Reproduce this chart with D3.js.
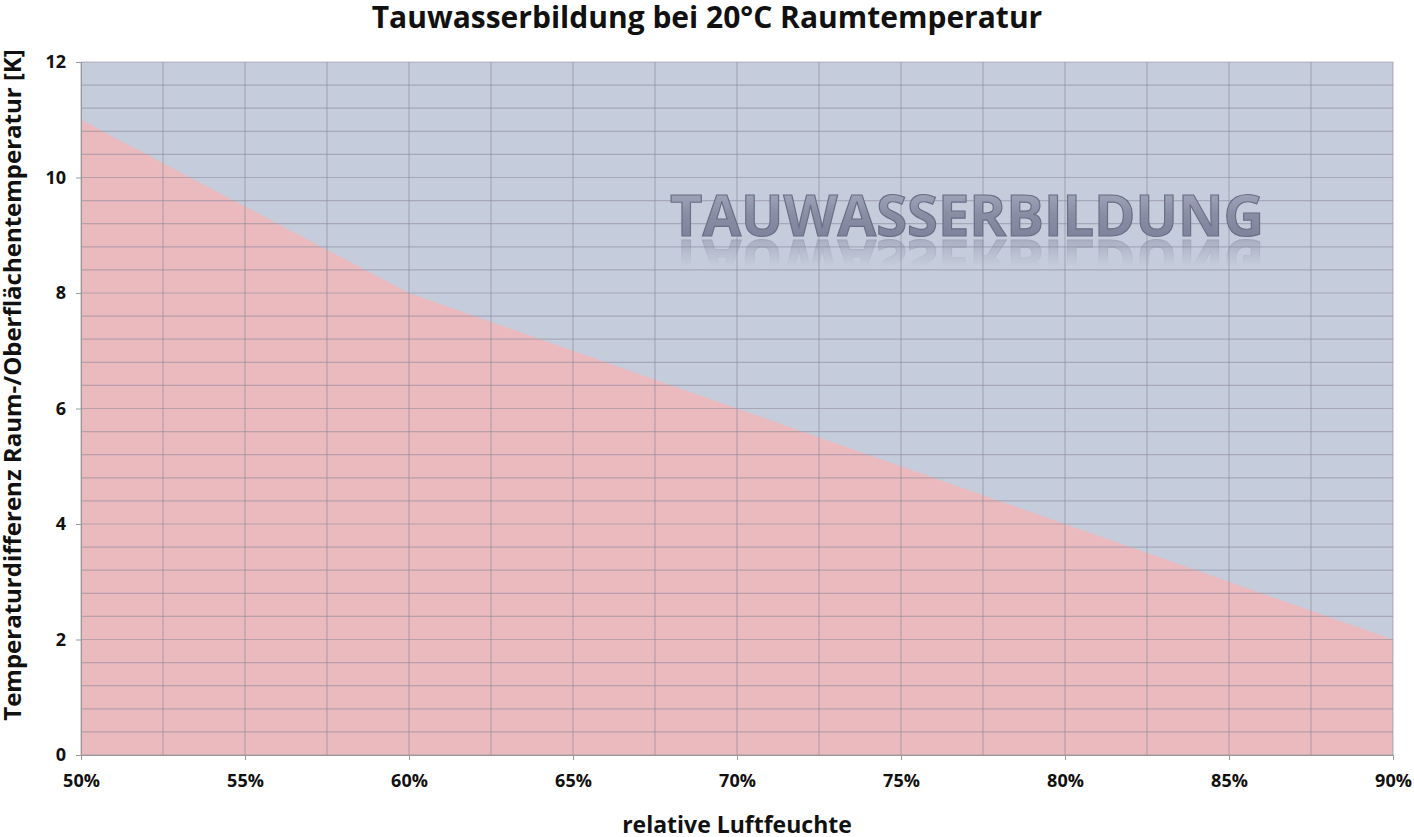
<!DOCTYPE html><html><head><meta charset="utf-8">
<script src="https://cdn.jsdelivr.net/npm/d3@7"></script>
<style>body{margin:0;background:#fff}text{font-family:"Open Sans",sans-serif}</style></head><body>
<svg id="c" width="1414" height="837"></svg>
<script>
const humidity=[0.50,0.55,0.60,0.65,0.70,0.75,0.80,0.85,0.90];
const tempDiff=[11,9.5,8,7,6,5,4,3,2];
const xTicks=[0.50,0.55,0.60,0.65,0.70,0.75,0.80,0.85,0.90];
const yTicks=[0,2,4,6,8,10,12];
const svg=d3.select("#c");
const x=d3.scaleLinear().domain([0.5,0.9]).range([81,1393]);
const y=d3.scaleLinear().domain([0,12]).range([755,62]);
const defs=svg.append("defs");
const g1=defs.append("linearGradient").attr("id","tg").attr("x1",0).attr("y1",0).attr("x2",0).attr("y2",1);
g1.append("stop").attr("offset","0").attr("stop-color","#b3b7ca");
g1.append("stop").attr("offset","0.5").attr("stop-color","#8a8ea5");
g1.append("stop").attr("offset","1").attr("stop-color","#767a93");
const mg=defs.append("linearGradient").attr("id","mg").attr("x1",0).attr("y1",0).attr("x2",0).attr("y2",1);
mg.append("stop").attr("offset","0").attr("stop-color","#fff").attr("stop-opacity",0.45);
mg.append("stop").attr("offset","0.5").attr("stop-color","#fff").attr("stop-opacity",0);
defs.append("mask").attr("id","rm").attr("maskUnits","userSpaceOnUse")
 .append("rect").attr("x",600).attr("y",236).attr("width",740).attr("height",60).attr("fill","url(#mg)");
svg.append("rect").attr("x",x(0.5)).attr("y",y(12)).attr("width",x(0.9)-x(0.5)).attr("height",y(0)-y(12)).attr("fill","#c5ccdb");
const data=humidity.map((h,i)=>[h,tempDiff[i]]);
svg.append("path").datum(data).attr("fill","#ebbabf")
 .attr("d",d3.area().x(d=>x(d[0])).y0(y(0)).y1(d=>y(d[1])));
const gy=d3.range(0,12.01,0.4), gx=d3.range(0.5,0.9001,0.025);
svg.append("g").selectAll("line").data(gy).join("line")
 .attr("x1",x(0.5)).attr("x2",x(0.9)).attr("y1",d=>y(d)).attr("y2",d=>y(d))
 .attr("stroke","#8d8b9c").attr("stroke-opacity",0.55).attr("stroke-width",1.2);
svg.append("g").selectAll("line").data(gx).join("line")
 .attr("y1",y(0)).attr("y2",y(12)).attr("x1",d=>x(d)).attr("x2",d=>x(d))
 .attr("stroke","#8d8b9c").attr("stroke-opacity",0.55).attr("stroke-width",1.2);
const xa=svg.append("g").attr("transform",`translate(0,${y(0)})`).call(d3.axisBottom(x).tickValues(xTicks).tickFormat(d3.format(".0%")).tickSize(5).tickPadding(14));
const ya=svg.append("g").attr("transform",`translate(${x(0.5)},0)`).call(d3.axisLeft(y).tickValues(yTicks).tickSize(5).tickPadding(10));
[xa,ya].forEach(a=>{a.selectAll("path,line").attr("stroke","#999");a.selectAll("text").attr("font-size",18).attr("font-weight","bold").attr("fill","#111").style("font-family","Open Sans");});
const wx=967,wy=236;
svg.append("text").attr("id","wm").attr("x",wx).attr("y",wy).attr("text-anchor","middle").attr("font-size",57).attr("font-weight",700)
 .attr("textLength",594).attr("lengthAdjust","spacingAndGlyphs")
 .attr("fill","url(#tg)").attr("stroke","#6a6e86").attr("stroke-width",1.2).text("TAUWASSERBILDUNG");
svg.append("g").attr("mask","url(#rm)").append("use").attr("href","#wm")
 .attr("transform",`translate(0,${2*wy+4}) scale(1,-1)`);
svg.append("text").attr("x",707).attr("y",28).attr("text-anchor","middle").attr("font-size",30).attr("font-weight","bold").attr("fill","#111").text("Tauwasserbildung bei 20°C Raumtemperatur");
svg.append("text").attr("x",737).attr("y",833).attr("text-anchor","middle").attr("font-size",23).attr("font-weight","bold").attr("fill","#111").text("relative Luftfeuchte");
svg.append("text").attr("transform",`translate(21,385) rotate(-90)`).attr("text-anchor","middle").attr("font-size",24).attr("font-weight","bold").attr("fill","#111").text("Temperaturdifferenz Raum-/Oberflächentemperatur [K]");
</script></body></html>
